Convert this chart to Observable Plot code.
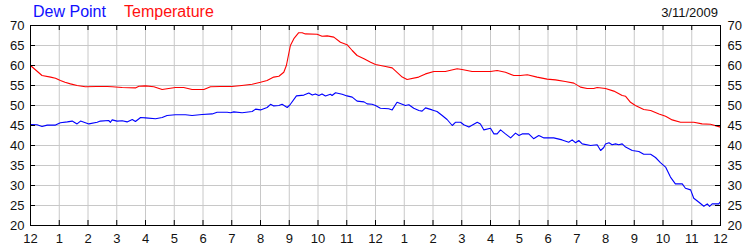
<!DOCTYPE html>
<html>
<head>
<meta charset="utf-8">
<script src="https://cdn.jsdelivr.net/npm/d3@7"></script>
<script src="https://cdn.jsdelivr.net/npm/@observablehq/plot@0.6"></script>
<style>
  html, body { margin: 0; padding: 0; background: #fff; }
  #wrap { position: relative; width: 750px; height: 250px; font-family: "Liberation Sans", Arial, sans-serif; }
  .lg { position: absolute; top: 3px; font-size: 16px; line-height: 18px; white-space: nowrap; }
  #date { position: absolute; top: 5px; right: 32px; font-size: 13px; line-height: 16px; color: #111; }
  #chart { position: absolute; left: 0; top: 0; }
</style>
</head>
<body>
<div id="wrap">
  <div id="chart"></div>
  <div class="lg" style="left:33px;color:#1010ff">Dew Point</div>
  <div class="lg" style="left:124px;color:#ff1010">Temperature</div>
  <div id="date">3/11/2009</div>
</div>
<script>
// hour of day (0 = 12 AM) and reading in °F
const temperature = [
  [0,60],[0.4,57.5],[0.7,57.1],[0.87,56.8],[1.04,56.25],[1.2,55.8],[1.39,55.4],[1.62,55],[1.91,54.7],
  [2.3,54.75],[2.67,54.75],[2.84,54.7],[3.19,54.5],[3.65,54.4],[3.77,54.8],[4.0,54.9],[4.29,54.7],
  [4.58,54],[4.75,54.2],[5.04,54.5],[5.33,54.5],[5.62,54],[6.03,54],[6.26,54.7],[6.6,54.75],[7.0,54.75],
  [7.35,55],[7.71,55.3],[8.0,55.8],[8.23,56.25],[8.46,57.1],[8.64,57.3],[8.81,58.3],[8.9,60],[9.04,65],
  [9.16,66.7],[9.33,68.2],[9.45,68.2],[9.56,67.9],[9.97,67.8],[10.14,67.3],[10.32,67.4],[10.55,67.1],
  [10.78,65.8],[11.01,65.2],[11.19,63.75],[11.36,62.5],[11.6,61.7],[11.83,60.8],[12.0,60.25],[12.35,59.75],
  [12.58,59.4],[12.75,58.3],[12.93,57.1],[13.1,56.5],[13.5,57.1],[13.74,57.9],[14.03,58.5],[14.43,58.5],
  [14.84,59.2],[15.01,59],[15.36,58.5],[16.0,58.5],[16.23,58.75],[16.52,58.3],[16.81,57.5],[17.04,57.5],
  [17.28,57.7],[17.62,57.1],[17.97,56.6],[18.26,56.4],[18.6,56],[18.9,55.6],[19.13,54.6],[19.36,54.25],
  [19.59,54.25],[19.71,54.5],[20.0,54.25],[20.29,53.6],[20.58,52.5],[20.7,52.3],[20.87,50.8],[21.04,50],
  [21.33,49],[21.57,48.75],[21.86,47.9],[22.09,47.3],[22.32,46.4],[22.61,45.8],[23.07,45.8],[23.36,45.4],
  [23.65,45.3],[24.0,44.6]
];
const dewPoint = [
  [0,45.25],[0.23,45.2],[0.4,44.75],[0.58,45.1],[0.87,45.1],[1.04,45.7],[1.28,45.9],[1.45,46.1],[1.62,45.4],
  [1.74,46.1],[1.91,45.7],[2.03,45.4],[2.32,45.8],[2.43,46.1],[2.72,46.25],[2.78,45.8],[2.84,46.4],[3.01,46.1],
  [3.19,46.2],[3.36,45.9],[3.54,46.5],[3.65,46],[3.83,47],[4.0,46.9],[4.35,46.7],[4.58,47],[4.75,47.5],
  [5.04,47.7],[5.39,47.7],[5.62,47.5],[5.97,47.75],[6.32,47.9],[6.49,48.3],[6.84,48.3],[6.96,48.2],[7.07,48.4],
  [7.36,48.2],[7.71,48.5],[7.83,49.1],[8.0,48.9],[8.23,49.5],[8.35,50.3],[8.46,49.9],[8.64,50],[8.75,50.3],
  [8.93,49.5],[9.04,50.3],[9.25,52.4],[9.51,52.6],[9.68,53.1],[9.8,52.6],[9.91,52.9],[10.03,52.5],[10.14,52.9],
  [10.26,52.4],[10.43,52.8],[10.49,52.5],[10.61,53.2],[10.84,52.8],[11.01,52.4],[11.19,52.1],[11.36,51.1],
  [11.6,50.9],[11.71,50.4],[11.88,50.3],[12.0,50],[12.17,49.3],[12.46,49.2],[12.58,48.9],[12.75,50.8],
  [13.04,50],[13.16,50.2],[13.33,49.3],[13.51,48.75],[13.62,48.6],[13.74,49.4],[13.97,48.9],[14.14,48.5],
  [14.32,47.5],[14.49,46.5],[14.67,45],[14.78,45.8],[14.96,45.8],[15.07,45.2],[15.25,44.6],[15.54,45.8],
  [15.65,45.4],[15.77,43.9],[16.0,44.3],[16.12,42.9],[16.23,42.9],[16.35,43.9],[16.52,42.9],[16.7,41.9],
  [16.87,43.1],[16.99,42.5],[17.1,42.9],[17.33,42.9],[17.5,41.7],[17.68,42.5],[17.86,41.9],[18.2,41.9],
  [18.49,41.4],[18.72,40.8],[18.84,41.4],[18.96,40.7],[19.07,41.25],[19.19,40.4],[19.48,40],[19.71,40.2],
  [19.83,38.75],[19.94,39.5],[20.0,40.4],[20.12,40.7],[20.23,40.2],[20.35,40.4],[20.46,40.2],[20.58,40.4],
  [20.7,39.6],[20.93,38.75],[21.16,38.5],[21.33,37.8],[21.57,37.8],[21.74,37],[21.91,35.7],[22.09,34.6],
  [22.26,32.1],[22.43,30.4],[22.67,30.4],[22.78,29.3],[22.96,28.9],[23.07,26.8],[23.25,25.8],[23.42,24.8],
  [23.54,25.4],[23.62,24.8],[23.71,25.4],[23.94,25.4],[24.0,26]
];
const hourTicks = d3.range(0, 25);
const hourLabels = ["12","1","2","3","4","5","6","7","8","9","10","11","12","1","2","3","4","5","6","7","8","9","10","11","12"];
const degreeTicks = [20,25,30,35,40,45,50,55,60,65,70];

const W = 750, H = 250, ML = 30, MR = 30, MT = 25, MB = 25, TICK = 5;
const innerW = W - ML - MR, innerH = H - MT - MB;

const chart = Plot.plot({
  width: W,
  height: H,
  marginLeft: ML,
  marginRight: MR,
  marginTop: MT,
  marginBottom: MB,
  style: { fontFamily: "'Liberation Sans', Arial, sans-serif", fontSize: "13px", color: "#111", background: "transparent" },
  x: { domain: [0, 24] },
  y: { domain: [20, 70] },
  marks: [
    Plot.gridX(hourTicks, { stroke: "#c8c8c8", strokeOpacity: 1 }),
    Plot.gridY(degreeTicks, { stroke: "#c8c8c8", strokeOpacity: 1 }),
    Plot.line(dewPoint, { x: d => d[0], y: d => d[1], stroke: "#0000ff", strokeWidth: 1.1 }),
    Plot.line(temperature, { x: d => d[0], y: d => d[1], stroke: "#ff0000", strokeWidth: 1.1 }),
    // short inward tick marks on all four sides
    Plot.ruleX(hourTicks, { x: d => d, insetBottom: innerH - TICK, stroke: "#000" }),
    Plot.ruleX(hourTicks, { x: d => d, insetTop: innerH - TICK, stroke: "#000" }),
    Plot.ruleY(degreeTicks, { y: d => d, insetRight: innerW - TICK, stroke: "#000" }),
    Plot.ruleY(degreeTicks, { y: d => d, insetLeft: innerW - TICK, stroke: "#000" }),
    Plot.frame({ stroke: "#000" }),
    Plot.axisX(hourTicks, { anchor: "bottom", tickSize: 0, tickPadding: 8, tickFormat: d => hourLabels[d], label: null }),
    Plot.axisY(degreeTicks, { anchor: "left", tickSize: 0, tickPadding: 6, label: null }),
    Plot.axisY(degreeTicks, { anchor: "right", tickSize: 0, tickPadding: 7, label: null })
  ]
});
document.getElementById("chart").appendChild(chart);
</script>
</body>
</html>
